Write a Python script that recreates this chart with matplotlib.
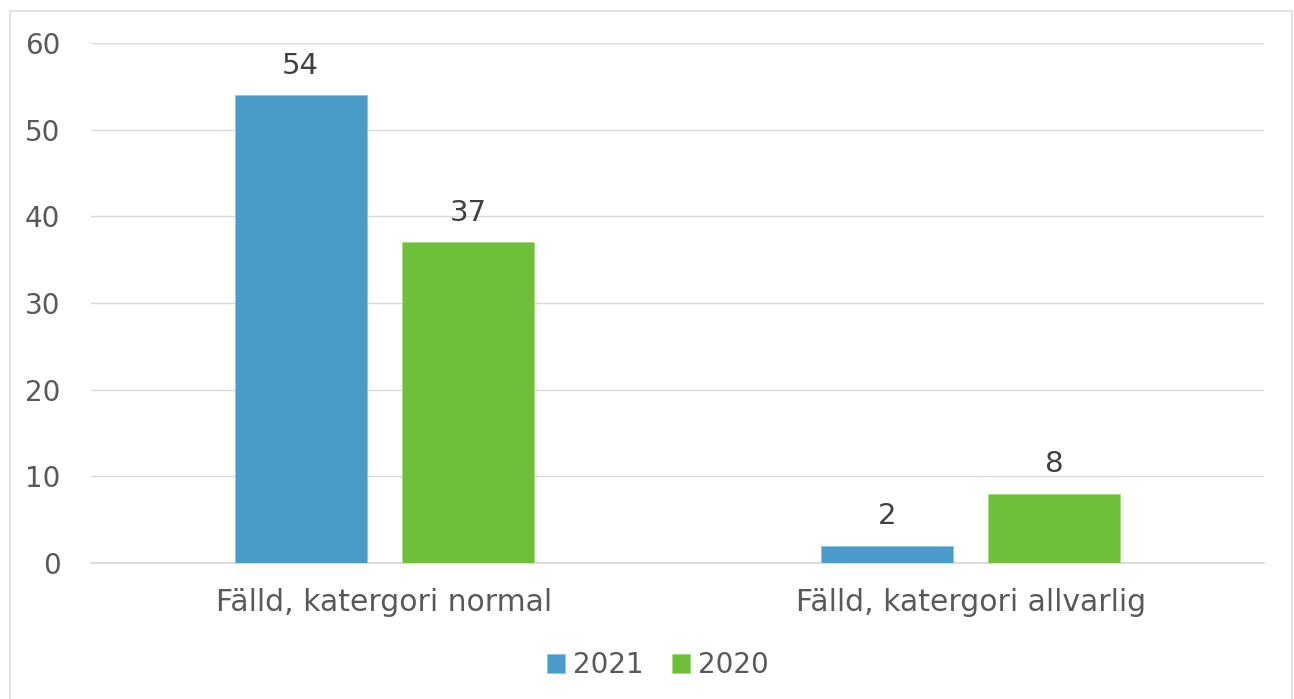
import numpy as np
import matplotlib.pyplot as plt
from matplotlib.patches import Rectangle

categories = ["Fälld, katergori normal", "Fälld, katergori allvarlig"]
series_names = ["2021", "2020"]
values_2021 = [54, 2]
values_2020 = [37, 8]
yticks = [0, 10, 20, 30, 40, 50, 60]

blue = "#4a9bca"
green = "#70bf3b"
tick_col = "#595959"
label_col = "#404040"

plt.rcParams['font.family'] = ['DejaVu Sans']

W, H = 1294, 699
fig = plt.figure(figsize=(W / 100, H / 100), dpi=100)
ax = fig.add_axes([91 / W, 1 - 563 / H, (1264 - 91) / W, (563 - 43) / H])

x = np.arange(len(categories))
bw = 0.225
off = 0.1425
b1 = ax.bar(x - off, values_2021, bw, color=blue, edgecolor="#8fc2e0", linewidth=0.6,
            label=series_names[0], zorder=3)
b2 = ax.bar(x + off, values_2020, bw, color=green, edgecolor="#a6da85", linewidth=0.6,
            label=series_names[1], zorder=3)

fs = 21.5
for bars in (b1, b2):
    ax.bar_label(bars, padding=11, fontsize=21, color=label_col)

ax.set_xlim(-0.5, 1.5)
ax.set_ylim(0, 60)
ax.set_yticks(yticks)
ax.set_xticks(x)
ax.set_xticklabels(categories)
ax.tick_params(axis='both', length=0, labelsize=fs, colors=tick_col)
ax.tick_params(axis='y', pad=22, labelsize=20)
ax.tick_params(axis='x', pad=18)
ax.grid(axis='y', color="#d9d9d9", linewidth=1.0, zorder=0)
ax.axhline(0, color="#d9d9d9", linewidth=1.3, clip_on=False, zorder=2)
for s in ax.spines.values():
    s.set_visible(False)

leg = fig.legend(loc='center', bbox_to_anchor=(658 / W, 1 - 665 / H), ncol=2,
                 frameon=False, fontsize=20, handlelength=0.65, handleheight=0.65,
                 handletextpad=0.3, columnspacing=1.0)
for t in leg.get_texts():
    t.set_color(tick_col)

fig.patches.append(Rectangle((9.5 / W, -0.01), (1292 - 9.5) / W, 1 - 10.5 / H + 0.01,
                             transform=fig.transFigure, fill=False,
                             edgecolor="#d9d9d9", linewidth=1.1))

fig.savefig("out.png", dpi=100)
